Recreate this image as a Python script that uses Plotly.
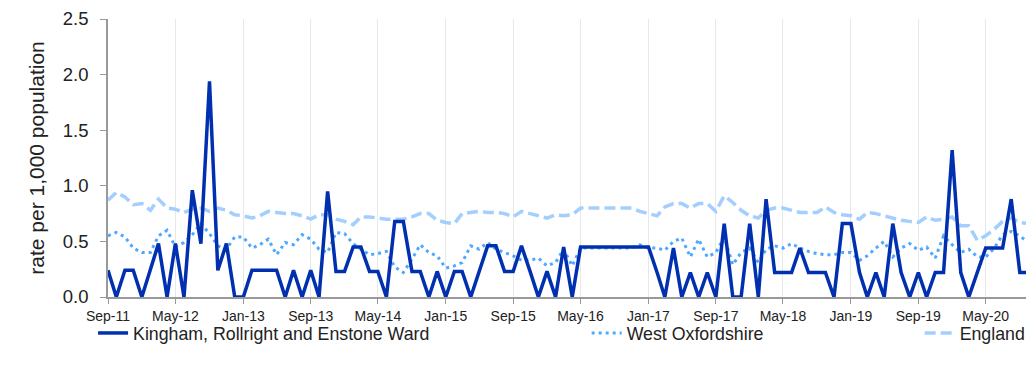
import pandas as pd
import plotly.graph_objects as go

# monthly rates per 1,000 population, Sep-11 onwards
months = pd.date_range("2011-09-01", periods=111, freq="MS")

kingham = [
    0.24, 0, 0.24, 0.24, 0, 0.24, 0.48, 0, 0.48, 0,
    0.96, 0.48, 1.94, 0.24, 0.48, 0, 0, 0.24, 0.24, 0.24,
    0.24, 0, 0.24, 0, 0.24, 0, 0.95, 0.23, 0.23, 0.45,
    0.45, 0.23, 0.23, 0, 0.68, 0.68, 0.23, 0.23, 0, 0.23,
    0, 0.23, 0.23, 0, 0.23, 0.46, 0.46, 0.23, 0.23, 0.46,
    0.23, 0, 0.23, 0, 0.45, 0, 0.45, 0.45, 0.45, 0.45,
    0.45, 0.45, 0.45, 0.45, 0.45, 0.22, 0, 0.44, 0, 0.22,
    0, 0.22, 0, 0.66, 0, 0, 0.66, 0, 0.88, 0.22,
    0.22, 0.22, 0.44, 0.22, 0.22, 0.22, 0, 0.66, 0.66, 0.22,
    0, 0.22, 0, 0.66, 0.22, 0, 0.22, 0, 0.22, 0.22,
    1.32, 0.22, 0, 0.22, 0.44, 0.44, 0.44, 0.88, 0.22, 0.22,
    0.66,
]

west_oxon = [
    0.55, 0.58, 0.54, 0.44, 0.40, 0.40, 0.55, 0.60, 0.45, 0.49,
    0.56, 0.66, 0.57, 0.46, 0.43, 0.54, 0.54, 0.44, 0.47, 0.52,
    0.38, 0.49, 0.47, 0.56, 0.52, 0.43, 0.40, 0.58, 0.57, 0.48,
    0.43, 0.38, 0.39, 0.41, 0.27, 0.22, 0.34, 0.47, 0.40, 0.37,
    0.26, 0.28, 0.31, 0.46, 0.43, 0.49, 0.43, 0.40, 0.37, 0.33,
    0.33, 0.35, 0.28, 0.31, 0.43, 0.28, 0.44, 0.44, 0.44, 0.44,
    0.44, 0.44, 0.44, 0.47, 0.44, 0.44, 0.42, 0.50, 0.53, 0.36,
    0.52, 0.36, 0.40, 0.54, 0.29, 0.40, 0.44, 0.31, 0.43, 0.46,
    0.44, 0.48, 0.44, 0.41, 0.39, 0.38, 0.38, 0.40, 0.40, 0.33,
    0.37, 0.44, 0.50, 0.36, 0.44, 0.48, 0.42, 0.45, 0.35, 0.55,
    0.47, 0.40, 0.43, 0.36, 0.36, 0.44, 0.56, 0.59, 0.55, 0.49,
    0.44,
]

england = [
    0.87, 0.94, 0.90, 0.83, 0.84, 0.78, 0.88, 0.80, 0.79, 0.76,
    0.79, 0.80, 0.77, 0.80, 0.78, 0.74, 0.73, 0.71, 0.73, 0.77,
    0.76, 0.75, 0.75, 0.73, 0.70, 0.74, 0.74, 0.70, 0.68, 0.65,
    0.72, 0.72, 0.71, 0.70, 0.70, 0.70, 0.72, 0.75, 0.75, 0.69,
    0.67, 0.66, 0.75, 0.76, 0.77, 0.76, 0.76, 0.75, 0.72, 0.77,
    0.75, 0.73, 0.71, 0.74, 0.73, 0.74, 0.80, 0.80, 0.80, 0.80,
    0.80, 0.80, 0.80, 0.77, 0.75, 0.73, 0.81, 0.84, 0.84, 0.80,
    0.84, 0.84, 0.77, 0.91, 0.85, 0.78, 0.73, 0.71, 0.78, 0.80,
    0.80, 0.78, 0.76, 0.76, 0.76, 0.81, 0.76, 0.74, 0.73, 0.70,
    0.76, 0.75, 0.73, 0.71, 0.69, 0.68, 0.67, 0.72, 0.69, 0.70,
    0.72, 0.64, 0.64, 0.51, 0.55, 0.61, 0.68, 0.71, 0.67, 0.66,
    0.66,
]

font = "Liberation Sans, Arial, sans-serif"

fig = go.Figure()
fig.add_trace(go.Scatter(
    x=months, y=england, name="England", mode="lines", legend="legend3",
    line=dict(color="#a3cfff", width=3.5, dash="11px,5px"),
))
fig.add_trace(go.Scatter(
    x=months, y=west_oxon, name="West Oxfordshire", mode="lines", legend="legend2",
    line=dict(color="#4ea8ff", width=3, dash="3px,4px"),
))
fig.add_trace(go.Scatter(
    x=months, y=kingham, name="Kingham, Rollright and Enstone Ward", mode="lines",
    legend="legend",
    line=dict(color="#0030b0", width=3.5),
))

leg = dict(orientation="h", yanchor="middle", y=-0.131, xanchor="left",
           font=dict(family=font, size=17.75, color="#222"), bgcolor="rgba(0,0,0,0)")

fig.update_layout(
    width=1034, height=375,
    margin=dict(l=100, r=0, t=6, b=86),
    plot_bgcolor="white", paper_bgcolor="white",
    font=dict(family=font, color="#222"),
    showlegend=True,
    legend=dict(leg, x=-0.016),
    legend2=dict(leg, x=0.5125),
    legend3=dict(leg, x=0.869),
    xaxis=dict(
        type="date",
        range=["2011-09-01", "2020-11-20"],
        tick0="2011-09-01", dtick="M8", tickformat="%b-%y",
        showgrid=True, gridcolor="#e8e8e8", gridwidth=1,
        showline=True, linecolor="#999", linewidth=1.5,
        ticks="outside", ticklen=5, tickcolor="#999",
        tickfont=dict(size=14), zeroline=False,
        ticklabeloverflow="allow",
    ),
    yaxis=dict(
        range=[0, 2.5], dtick=0.5, tickformat=".1f",
        showgrid=False, zeroline=False,
        showline=True, linecolor="#999", linewidth=1.5,
        ticks="outside", ticklen=6, tickcolor="#999",
        ticklabelstandoff=8, ticklabeloverflow="allow",
        tickfont=dict(size=18.5),
        title=dict(text="rate per 1,000 population", font=dict(size=21), standoff=12),
    ),
)

fig.write_html("out.html")
